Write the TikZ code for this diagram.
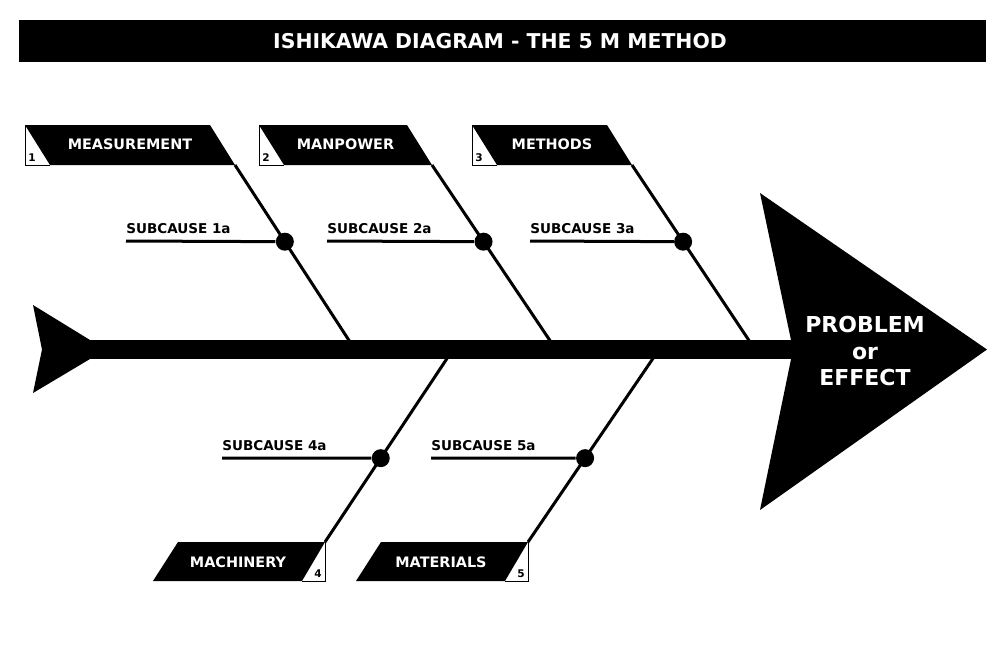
\documentclass[tikz,border=0pt]{standalone}
\usepackage{fontspec}
\setmainfont{DejaVu Sans}
\usetikzlibrary{positioning,calc}

\tikzset{
  bone/.style={line width=0.6mm},
  subline/.style={line width=0.6mm},
  joint/.style={circle, fill=black, inner sep=0pt, minimum size=3.6mm},
  catlabel/.style={text=white, font=\bfseries\fontsize{8.2}{10}\selectfont},
  sublabel/.style={font=\bfseries\fontsize{7.7}{10}\selectfont, anchor=south west, inner sep=0pt},
  numlabel/.style={font=\bfseries\fontsize{6}{7}\selectfont, inner sep=0pt},
}

\begin{document}
\begin{tikzpicture}[x=0.2mm, y=-0.2mm]
    \useasboundingbox (0,0) rectangle (1000,667);

    % Title bar
    \fill[black] (19,20) rectangle (986,62);
    \node[text=white, font=\bfseries\fontsize{11.6}{14}\selectfont] (title) at (500,41) {ISHIKAWA DIAGRAM - THE 5 M METHOD};

    % Upper causes
    \foreach \i/\l/\r/\s/\x/\name in {1/25/235/352/126/MEASUREMENT, 2/259/432/553/327/MANPOWER, 3/472/632/752/530/METHODS} {
        \coordinate (c\i) at (\r,165);
        \coordinate (f\i) at (\s,345);
        \draw[bone] (c\i) -- (f\i);
        \fill[black] (\l,125) -- (\r-25,125) -- (c\i) -- (\l+25,165) -- cycle;
        \draw[line width=0.3pt] (\l,125) -- (\l,165) -- (\l+25,165);
        \node[catlabel] (cat\i) at ({(\l+\r)/2},144) {\name};
        \node[numlabel, anchor=south west] (num\i) at (\l+3,162) {\i};
        % subcause
        \node[joint] (j\i) at ($(c\i)!0.426!(f\i)$) {};
        \coordinate (s\i) at (\x,241);
        \draw[subline] (s\i) -- (j\i);
        \node[sublabel] (sub\i) at ($(s\i)+(0,-7)$) {SUBCAUSE \i a};
    }

    % Lower causes
    \foreach \i/\r/\s/\x/\name in {4/325/450/222/MACHINERY, 5/528/656/431/MATERIALS} {
        \coordinate (c\i) at (\r,542);
        \coordinate (f\i) at (\s,354);
        \draw[bone] (f\i) -- (c\i);
        \fill[black] (\r-147,542) -- (c\i) -- (\r-23,581) -- (\r-172,581) -- cycle;
        \draw[line width=0.3pt] (c\i) -- (\r,581) -- (\r-23,581);
        \node[catlabel] (cat\i) at (\r-87,562) {\name};
        \node[numlabel, anchor=south east] (num\i) at (\r-3,578) {\i};
        % subcause
        \node[joint] (j\i) at ($(f\i)!0.554!(c\i)$) {};
        \coordinate (s\i) at (\x,458);
        \draw[subline] (s\i) -- (j\i);
        \node[sublabel] (sub\i) at ($(s\i)+(0,-7)$) {SUBCAUSE \i a};
    }

    % Spine
    \coordinate (tail) at (85,349.5);
    \coordinate (head) at (795,349.5);
    \draw[line width=3.8mm] (tail) -- (head);

    % Tail
    \fill[black] (33,305) -- (90,340) -- (90,359) -- (33,393) -- (42,349.5) -- cycle;

    % Head
    \fill[black] (760,193) -- (987,349.5) -- (760,510) -- (793,349.5) -- cycle;
    \node[text=white, align=center, font=\bfseries\fontsize{12.5}{15}\selectfont] (effect) at (865,351) {PROBLEM\\or\\EFFECT};
\end{tikzpicture}
\end{document}
